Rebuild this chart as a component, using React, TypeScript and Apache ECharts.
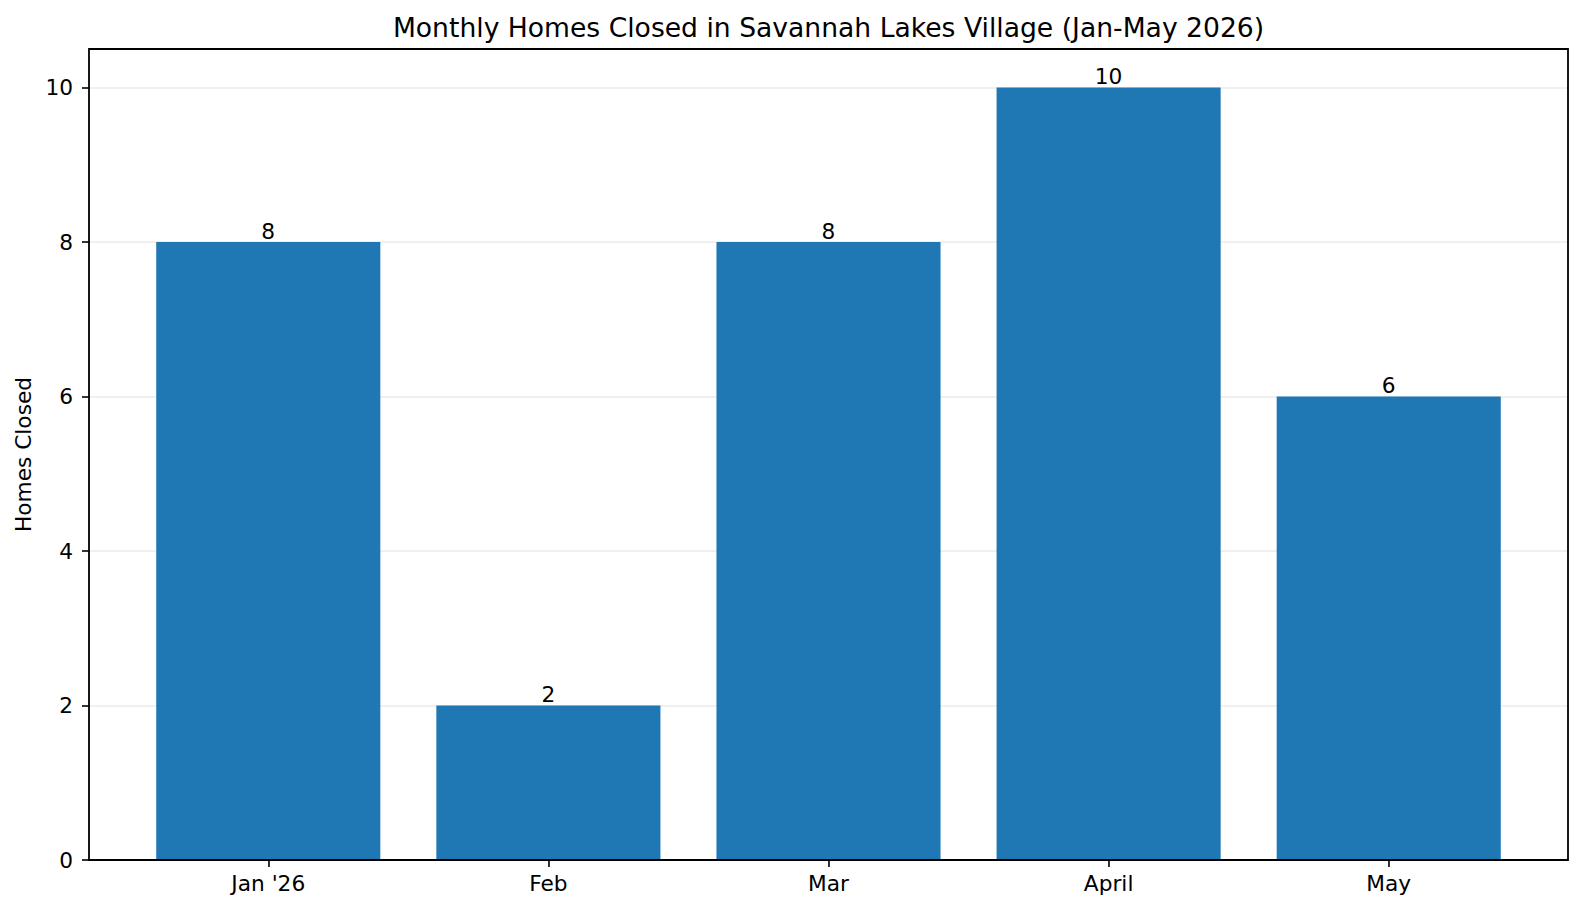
import React, { useEffect, useRef } from "react";
import * as echarts from "echarts";

const categories = ["Jan '26", "Feb", "Mar", "April", "May"];
const homesClosed = [8, 2, 8, 10, 6];
const yTicks = [0, 2, 4, 6, 8, 10];
const titleText = "Monthly Homes Closed in Savannah Lakes Village (Jan-May 2026)";
const yAxisName = "Homes Closed";

const FONT = "DejaVu Sans";

export default function App() {
  const ref = useRef<HTMLDivElement>(null);
  useEffect(() => {
    if (!ref.current) return;
    const chart = echarts.init(ref.current, null, { renderer: "svg" });
    const gl = 89, gr = 1568, gt = 49, gb = 860;
    const W = gr - gl;
    const unit = W / 5.28;
    const innerLeft = gl + 0.64 * unit - 0.5 * unit;
    const innerWidth = 5 * unit;
    chart.setOption({
      animation: false,
      title: {
        text: titleText,
        left: gl + W / 2 - 5,
        textAlign: "center",
        top: 9,
        textStyle: { fontFamily: FONT, fontSize: 26.6, fontWeight: "normal", color: "#000" },
      },
      grid: [
        { left: gl, top: gt, width: W, height: gb - gt },
        { left: innerLeft, top: gt, width: innerWidth, height: gb - gt },
      ],
      graphic: [
        {
          type: "rect",
          z: 100,
          silent: true,
          shape: { x: gl, y: gt, width: W, height: gb - gt },
          style: { fill: "none", stroke: "#000", lineWidth: 1.8 },
        },
      ],
      xAxis: [
        { type: "value", gridIndex: 0, min: 0, max: 1, axisLine: { show: false }, axisTick: { show: false }, axisLabel: { show: false }, splitLine: { show: false } },
        {
          type: "category",
          gridIndex: 1,
          data: categories,
          axisLine: { show: false },
          axisTick: { show: true, alignWithLabel: true, length: 7, lineStyle: { color: "#000", width: 1.6 } },
          axisLabel: { fontFamily: FONT, fontSize: 21.7, color: "#000", margin: 12 },
          splitLine: { show: false },
        },
      ],
      yAxis: [
        {
          type: "value",
          gridIndex: 0,
          min: 0,
          max: 10.5,
          interval: 2,
          name: yAxisName,
          nameLocation: "middle",
          nameGap: 54,
          nameTextStyle: { fontFamily: FONT, fontSize: 21.7, color: "#000" },
          axisLine: { show: false },
          axisTick: { show: true, length: 7, customValues: yTicks, lineStyle: { color: "#000", width: 1.6 } },
          axisLabel: {
            fontFamily: FONT,
            fontSize: 21.7,
            color: "#000",
            margin: 16,
            customValues: yTicks,
            formatter: (v: number) => (yTicks.includes(v) ? String(v) : ""),
          },
          splitLine: { show: true, lineStyle: { color: "#ebebeb", width: 1.6 } },
        },
        { type: "value", gridIndex: 1, min: 0, max: 10.5, show: false, splitLine: { show: false } },
      ],
      series: [
        {
          type: "bar",
          xAxisIndex: 1,
          yAxisIndex: 1,
          data: homesClosed,
          barWidth: "80%",
          itemStyle: { color: "#1f77b4" },
          label: {
            show: true,
            position: "top",
            distance: 0,
            fontFamily: FONT,
            fontSize: 21.7,
            color: "#000",
          },
        },
      ],
    });
    return () => chart.dispose();
  }, []);
  return <div ref={ref} style={{ width: 1584, height: 912, margin: -8 }} />;
}
